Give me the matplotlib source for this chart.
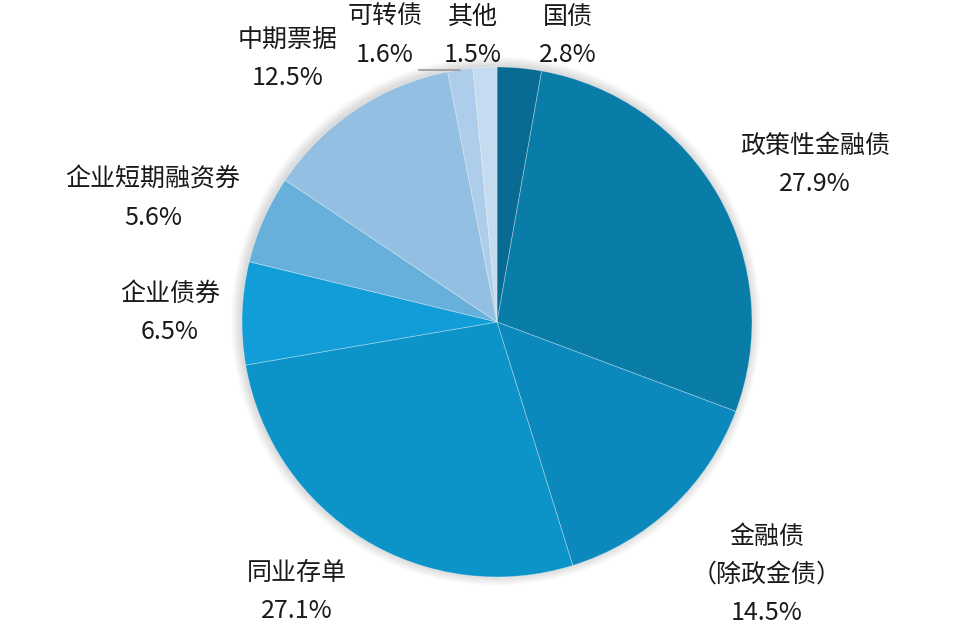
import numpy as np
import matplotlib.pyplot as plt
from matplotlib.patches import Circle

plt.rcParams['font.family'] = ['Noto Sans CJK SC', 'DejaVu Sans']

# data, clockwise from 12 o'clock
names = ["国债", "政策性金融债", "金融债\n（除政金债）", "同业存单", "企业债券",
         "企业短期融资券", "中期票据", "可转债", "其他"]
shares = [2.8, 27.9, 14.5, 27.1, 6.5, 5.6, 12.5, 1.6, 1.5]
colors = ["#086b94", "#0a7ca8", "#0b89bd", "#0c94c9", "#119ed8",
          "#68b0dc", "#92bfe2", "#adcdea", "#c5dbf0"]

# label anchor (pixel coords, top-left origin)
label_pos = [(568, 36), (815, 165), (767, 575), (297, 592), (170, 313),
             (153, 199), (288, 59), (385, 36), (473, 36)]

W, H = 955, 634
cx, cy, r = 497, 322, 255

fig = plt.figure(figsize=(W / 100, H / 100), dpi=100)
ax = fig.add_axes([0, 0, 1, 1])
ax.set_xlim(0, W)
ax.set_ylim(0, H)
ax.set_aspect("equal")
ax.axis("off")

# soft shadow
for k in range(12):
    ax.add_patch(Circle((cx - 1, H - cy + 1), r + 1 + k * 0.8, color="black",
                        alpha=0.012, lw=0, zorder=0))

ax.pie(shares, colors=colors, startangle=90, counterclock=False,
       center=(cx, H - cy), radius=r, frame=True,
       wedgeprops=dict(edgecolor=(1, 1, 1, 0.35), linewidth=0.6))
ax.set_xlim(0, W)
ax.set_ylim(0, H)
ax.axis("off")

for name, v, (x, y) in zip(names, shares, label_pos):
    txt = f"{name}\n{v:.1f}%"
    ax.text(x, H - y, txt, ha="center", va="center", fontsize=18,
            color="#1a1a1a", linespacing=1.62)

# leader line for the small slice
ax.plot([419, 460], [H - 70, H - 70], color="#999999", lw=1.2)

fig.savefig("out.png", dpi=100)
